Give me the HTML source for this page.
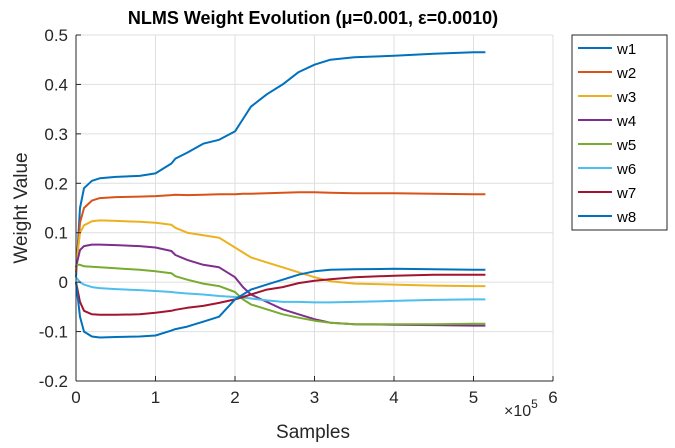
<!DOCTYPE html>
<html><head><meta charset="utf-8"><style>
body{margin:0;background:#fff;}
svg text{font-family:"Liberation Sans",sans-serif;}
</style></head><body>
<svg id="chart" width="675" height="443">
<text x="313" y="24" text-anchor="middle" font-size="18" font-weight="bold" fill="#000">NLMS Weight Evolution (μ=0.001, ε=0.0010)</text>
<g id="grid"></g><g id="series"></g><g id="axes"></g>
<text x="313" y="438" text-anchor="middle" font-size="19" fill="#262626">Samples</text>
<text transform="translate(27,208) rotate(-90)" text-anchor="middle" font-size="19" fill="#262626">Weight Value</text>
<text x="504" y="416" font-size="16" fill="#262626">×10<tspan dy="-8" font-size="12">5</tspan></text>
<g id="legend"></g>
</svg>
<script>
const xs=[0,0.05,0.1,0.2,0.3,0.5,0.8,1,1.2,1.25,1.4,1.6,1.8,2,2.1,2.2,2.4,2.6,2.8,3,3.2,3.5,4,4.5,5,5.15];
const w1=[0.01,0.15,0.19,0.205,0.21,0.213,0.215,0.22,0.24,0.25,0.262,0.28,0.288,0.305,0.33,0.355,0.38,0.40,0.425,0.44,0.45,0.455,0.458,0.462,0.465,0.465];
const w2=[0.02,0.12,0.15,0.165,0.17,0.172,0.173,0.174,0.176,0.177,0.176,0.177,0.178,0.178,0.179,0.179,0.18,0.181,0.182,0.182,0.181,0.18,0.18,0.179,0.178,0.178];
const w3=[0.03,0.1,0.115,0.123,0.125,0.124,0.122,0.12,0.116,0.11,0.1,0.095,0.09,0.07,0.06,0.05,0.04,0.03,0.02,0.01,0.002,-0.003,-0.005,-0.007,-0.008,-0.008];
const w4=[0.03,0.065,0.073,0.076,0.076,0.075,0.073,0.07,0.063,0.055,0.045,0.035,0.03,0.01,-0.01,-0.025,-0.04,-0.055,-0.065,-0.075,-0.082,-0.085,-0.086,-0.087,-0.088,-0.088];
const w5=[0.035,0.035,0.032,0.031,0.03,0.028,0.025,0.022,0.018,0.012,0.005,-0.003,-0.008,-0.02,-0.035,-0.045,-0.055,-0.065,-0.072,-0.078,-0.082,-0.085,-0.085,-0.085,-0.084,-0.084];
const w6=[0.01,0.0,-0.005,-0.01,-0.012,-0.014,-0.016,-0.018,-0.02,-0.021,-0.023,-0.025,-0.028,-0.03,-0.031,-0.033,-0.037,-0.04,-0.04,-0.041,-0.041,-0.04,-0.038,-0.036,-0.035,-0.035];
const w7=[0,-0.04,-0.058,-0.065,-0.066,-0.066,-0.065,-0.062,-0.058,-0.056,-0.052,-0.048,-0.042,-0.035,-0.03,-0.025,-0.015,-0.01,-0.002,0.003,0.006,0.01,0.013,0.015,0.015,0.015];
const w8=[0,-0.07,-0.1,-0.11,-0.112,-0.111,-0.11,-0.108,-0.098,-0.095,-0.09,-0.08,-0.07,-0.035,-0.025,-0.015,-0.005,0.005,0.015,0.022,0.025,0.026,0.027,0.026,0.025,0.025];
const seriesNames=["w1","w2","w3","w4","w5","w6","w7","w8"];
const seriesVals=[w1,w2,w3,w4,w5,w6,w7,w8];
const colors=["#0072BD","#D95319","#EDB120","#7E2F8E","#77AC30","#4DBEEE","#A2142F","#0072BD"];
const xTicks=[0,1,2,3,4,5,6];
const yTicks=[-0.2,-0.1,0,0.1,0.2,0.3,0.4,0.5];
const yLabels=["-0.2","-0.1","0","0.1","0.2","0.3","0.4","0.5"];
const L=76,R=553,T=35,B=381,xmin=0,xmax=6,ymin=-0.2,ymax=0.5;
const X=v=>L+(v-xmin)/(xmax-xmin)*(R-L);
const Y=v=>B-(v-ymin)/(ymax-ymin)*(B-T);
const NS="http://www.w3.org/2000/svg";
function mk(tag,attrs,parent){const e=document.createElementNS(NS,tag);for(const k in attrs)e.setAttribute(k,attrs[k]);parent.appendChild(e);return e;}
const grid=document.getElementById('grid'),axes=document.getElementById('axes'),ser=document.getElementById('series'),leg=document.getElementById('legend');
mk('rect',{x:L,y:T,width:R-L,height:B-T,fill:'#fff'},grid);
xTicks.forEach((t,i)=>{
 const g=mk('line',{x1:X(t),x2:X(t),y1:T,y2:B,stroke:'#dfdfdf','stroke-width':1},grid);
 
 
 mk('line',{x1:X(t),x2:X(t),y1:B,y2:B-5,stroke:'#262626'},axes);
 const tx=mk('text',{x:X(t),y:B+22,'text-anchor':'middle','font-size':17,fill:'#262626'},axes);
 tx.textContent=String(t);
 
 
});
yTicks.forEach((t,i)=>{
 const g=mk('line',{x1:L,x2:R,y1:Y(t),y2:Y(t),stroke:'#dfdfdf','stroke-width':1},grid);
 
 
 mk('line',{x1:L,x2:L+5,y1:Y(t),y2:Y(t),stroke:'#262626'},axes);
 const tx=mk('text',{x:L-8,y:Y(t)+6,'text-anchor':'end','font-size':17,fill:'#262626'},axes);
 tx.textContent=yLabels[i];
 
 
});
mk('line',{x1:L,x2:R,y1:B,y2:B,stroke:'#262626'},axes);
mk('line',{x1:L,x2:L,y1:T,y2:B,stroke:'#262626'},axes);
seriesVals.forEach((vals,s)=>{
 const d=vals.map((v,i)=>(i?'L':'M')+X(xs[i]).toFixed(1)+','+Y(v).toFixed(1)).join(' ');
 const p=mk('path',{d:d,fill:'none',stroke:colors[s],'stroke-width':2,'stroke-linejoin':'round'},ser);
 
 
});
mk('rect',{x:572,y:35,width:95,height:195,fill:'#fff',stroke:'#262626','stroke-width':1},leg);
seriesNames.forEach((n,s)=>{
 const y=48+s*24;
 const ln=mk('line',{x1:578,x2:612,y1:y,y2:y,stroke:colors[s],'stroke-width':2},leg);
 
 
 const tx=mk('text',{x:617,y:y+6,'font-size':15,fill:'#000'},leg);
 tx.textContent=n;
 
 
});
</script>
</body></html>
